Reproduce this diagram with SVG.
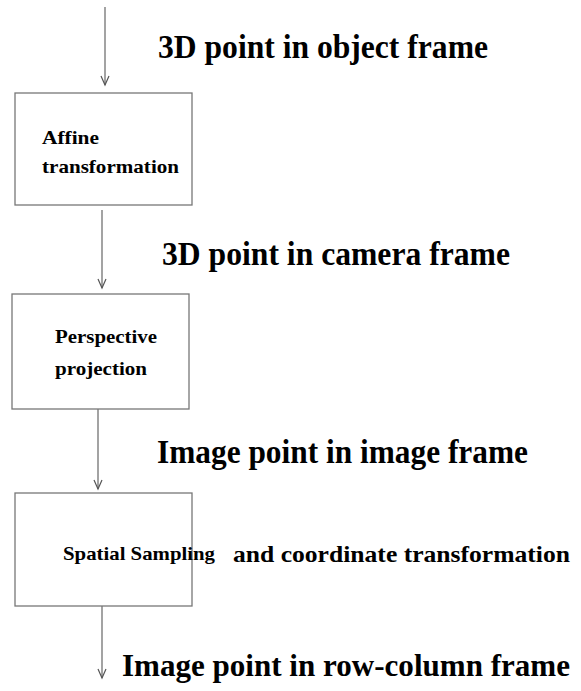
<svg xmlns="http://www.w3.org/2000/svg" width="581" height="691" viewBox="0 0 581 691">
<style>
.box{fill:#fff;stroke:#777;stroke-width:1.3}
.conn{stroke:#666;stroke-width:1.2;fill:none}
.head{stroke:#555;stroke-width:1.2;fill:none}
.lbl{font-family:"Liberation Serif","Times New Roman",serif;font-weight:bold;font-size:34px;fill:#000}
.in{font-family:"Liberation Serif","Times New Roman",serif;font-weight:bold;font-size:19px;fill:#000}
.mid{font-family:"Liberation Serif","Times New Roman",serif;font-weight:bold;font-size:23px;fill:#000}
</style>
<rect width="581" height="691" fill="#fff"/>
<g id="connectors">
<line class="conn" x1="105" y1="7" x2="105" y2="85"/>
<polyline class="head" points="101,76 105,85 109,76"/>
<line class="conn" x1="102" y1="210" x2="102" y2="288"/>
<polyline class="head" points="98,279 102,288 106,279"/>
<line class="conn" x1="98" y1="409" x2="98" y2="489"/>
<polyline class="head" points="94,480 98,489 102,480"/>
<line class="conn" x1="102" y1="606" x2="102" y2="678"/>
<polyline class="head" points="98,669 102,678 106,669"/>
</g>
<g id="label-object">
<text class="lbl" x="158" y="58" textLength="330" lengthAdjust="spacingAndGlyphs">3D point in object frame</text>
</g>
<g id="node-affine">
<rect class="box" x="15" y="93" width="177" height="112"/>
<text class="in" x="42" y="144" textLength="57" lengthAdjust="spacingAndGlyphs">Affine</text>
<text class="in" x="42" y="173" textLength="137" lengthAdjust="spacingAndGlyphs">transformation</text>
</g>
<g id="label-camera">
<text class="lbl" x="162" y="265" textLength="348" lengthAdjust="spacingAndGlyphs">3D point in camera frame</text>
</g>
<g id="node-perspective">
<rect class="box" x="12" y="294" width="177" height="115"/>
<text class="in" x="55" y="343" textLength="102" lengthAdjust="spacingAndGlyphs">Perspective</text>
<text class="in" x="55" y="375" textLength="92" lengthAdjust="spacingAndGlyphs">projection</text>
</g>
<g id="label-image">
<text class="lbl" x="157" y="463" textLength="371" lengthAdjust="spacingAndGlyphs">Image point in image frame</text>
</g>
<g id="node-sampling">
<rect class="box" x="15" y="493" width="177" height="113"/>
<text class="in" x="63" y="560" textLength="152" lengthAdjust="spacingAndGlyphs">Spatial Sampling</text>
</g>
<g id="label-coord">
<text class="mid" x="233" y="562" textLength="337" lengthAdjust="spacingAndGlyphs">and coordinate transformation</text>
</g>
<g id="label-rowcol">
<text class="lbl" x="122" y="676" font-size="32" style="font-size:32px" textLength="448" lengthAdjust="spacingAndGlyphs">Image point in row-column frame</text>
</g>
</svg>
